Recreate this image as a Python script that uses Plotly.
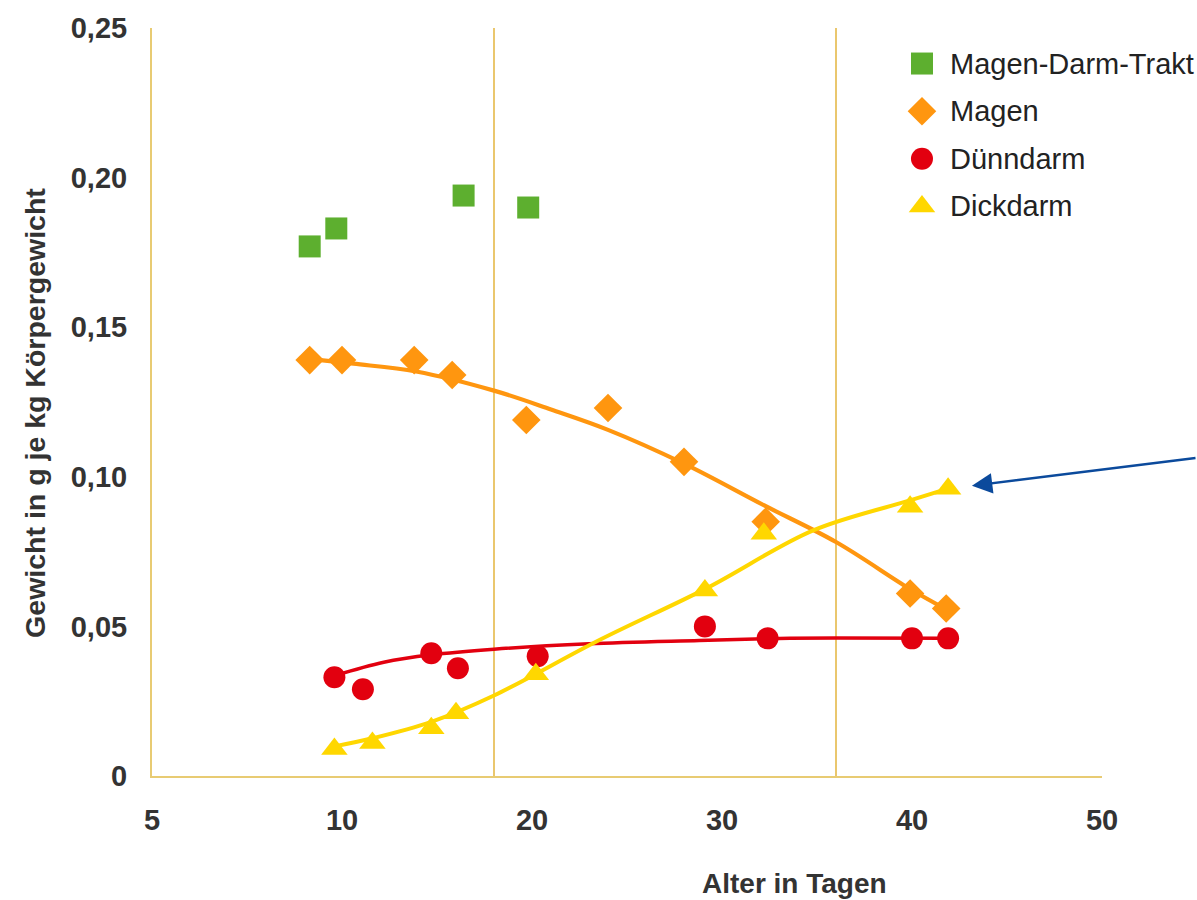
import plotly.graph_objects as go

# ---------------- data ----------------
series_names = ["Magen-Darm-Trakt", "Magen", "Dünndarm", "Dickdarm"]

gdt_days = [8.3, 9.7, 16.4, 19.8]
gdt_vals = [0.177, 0.183, 0.194, 0.190]

magen_days = [8.3, 10.0, 13.8, 15.8, 19.7, 24.0, 28.0, 32.3, 39.9, 41.8]
magen_vals = [0.139, 0.139, 0.139, 0.134, 0.119, 0.123, 0.105, 0.085, 0.061, 0.056]

duenn_days = [9.6, 11.1, 14.7, 16.1, 20.3, 29.1, 32.4, 40.0, 41.9]
duenn_vals = [0.033, 0.029, 0.041, 0.036, 0.040, 0.050, 0.046, 0.046, 0.046]

dick_days = [9.6, 11.6, 14.7, 16.0, 20.2, 29.1, 32.2, 39.9, 41.9]
dick_vals = [0.009, 0.011, 0.016, 0.021, 0.034, 0.062, 0.081, 0.090, 0.096]

# trend curves as drawn in the picture
magen_trend_days = [8.3, 10.6, 13.9, 18.0, 21.0, 24.0, 28.0, 32.2, 36.0, 39.9, 41.8]
magen_trend_vals = [0.1394, 0.1378, 0.1352, 0.1288, 0.1225, 0.1157, 0.1044, 0.0905, 0.0782, 0.0625, 0.0557]

duenn_trend_days = [9.6, 12.2, 14.7, 18.0, 23.0, 28.8, 32.4, 36.0, 41.9]
duenn_trend_vals = [0.0335, 0.0380, 0.0405, 0.0424, 0.0442, 0.0453, 0.0459, 0.0461, 0.0460]

dick_trend_days = [9.6, 11.6, 14.7, 18.0, 23.6, 29.2, 34.8, 39.9, 41.8]
dick_trend_vals = [0.0099, 0.0126, 0.0181, 0.0269, 0.0456, 0.0628, 0.0821, 0.0921, 0.0959]

phase_days = [18, 36]

x_tick_days = [0, 10, 20, 30, 40, 50]
x_tick_labels = ["5", "10", "20", "30", "40", "50"]
y_tick_vals = [0, 0.05, 0.10, 0.15, 0.20, 0.25]
y_tick_labels = ["0", "0,05", "0,10", "0,15", "0,20", "0,25"]

x_title = "Alter in Tagen"
y_title = "Gewicht in g je kg Körpergewicht"

# ---------------- styles ----------------
GREEN = "#5DAF2F"
ORANGE = "#FF960F"
RED = "#E2000F"
YELLOW = "#FFD700"
AXIS = "#E8CB73"
PHASE = "#E3B43E"
TXT = "#333333"
FONT = "Liberation Sans, Arial, sans-serif"

marker_styles = [
    dict(symbol="square", size=22, color=GREEN),
    dict(symbol="diamond", size=22, color=ORANGE),
    dict(symbol="circle", size=22, color=RED),
    dict(symbol="triangle-up", size=23, color=YELLOW),
]

fig = go.Figure()

# trend lines
fig.add_trace(go.Scatter(x=duenn_trend_days, y=duenn_trend_vals, mode="lines",
                         line=dict(color=RED, width=3.5, shape="spline", smoothing=1.0),
                         showlegend=False, hoverinfo="skip"))
fig.add_trace(go.Scatter(x=magen_trend_days, y=magen_trend_vals, mode="lines",
                         line=dict(color=ORANGE, width=4.2, shape="spline", smoothing=1.0),
                         showlegend=False, hoverinfo="skip"))
fig.add_trace(go.Scatter(x=dick_trend_days, y=dick_trend_vals, mode="lines",
                         line=dict(color=YELLOW, width=4, shape="spline", smoothing=1.0),
                         showlegend=False, hoverinfo="skip"))

# markers
for name, xs, ys, ms in zip(series_names,
                            [gdt_days, magen_days, duenn_days, dick_days],
                            [gdt_vals, magen_vals, duenn_vals, dick_vals],
                            marker_styles):
    fig.add_trace(go.Scatter(x=xs, y=ys, mode="markers", name=name,
                             marker=dict(symbol=ms["symbol"], size=ms["size"], color=ms["color"],
                                         line=dict(width=0)),
                             showlegend=False, cliponaxis=False))

# custom legend (large markers like the reference)
legend_x = 0.8105
legend_text_x = 0.838
legend_top = 0.9525
legend_step = 0.0637
for i, (name, ms) in enumerate(zip(series_names, marker_styles)):
    yy = legend_top - i * legend_step
    fig.add_trace(go.Scatter(x=[legend_x], y=[yy], xaxis="x2", yaxis="y2", mode="markers",
                             marker=dict(symbol=ms["symbol"], size=ms["size"], color=ms["color"],
                                         line=dict(width=0)),
                             showlegend=False, hoverinfo="skip", cliponaxis=False))
    fig.add_annotation(x=legend_text_x, y=yy, xref="paper", yref="paper", text=name,
                       showarrow=False, xanchor="left", yanchor="middle",
                       font=dict(family=FONT, size=29, color="#222222"))

# phase lines
for d in phase_days:
    fig.add_shape(type="line", x0=d, x1=d, y0=0, y1=0.25, xref="x", yref="y",
                  line=dict(color=PHASE, width=1.5), layer="below")

# axis titles
fig.add_annotation(x=0.6768, y=-0.1432, xref="paper", yref="paper", text=x_title,
                   showarrow=False, xanchor="center", yanchor="middle",
                   font=dict(family=FONT, size=28, color=TXT, weight="bold"))
fig.add_annotation(x=-0.1232, y=0.4854, xref="paper", yref="paper", text=y_title,
                   showarrow=False, textangle=-90, xanchor="center", yanchor="middle",
                   font=dict(family=FONT, size=28.5, color=TXT, weight="bold"))

# arrow pointing at last Dickdarm point
fig.add_annotation(x=dick_days[-1], y=dick_vals[-1], xref="x", yref="y", text="",
                   showarrow=True, ax=252, ay=-31, axref="pixel", ayref="pixel",
                   arrowhead=2, arrowsize=1.7, arrowwidth=2.4, arrowcolor="#0B4A9C",
                   standoff=24)

fig.update_layout(
    width=1197, height=900,
    margin=dict(l=152, r=95, t=22, b=124),
    plot_bgcolor="white", paper_bgcolor="white",
    showlegend=False,
    font=dict(family=FONT, color=TXT),
    xaxis=dict(range=[0, 50], tickvals=x_tick_days, ticktext=x_tick_labels,
               showline=True, linecolor=AXIS, linewidth=2, showgrid=False, zeroline=False,
               ticks="outside", ticklen=17, tickcolor="rgba(0,0,0,0)",
               tickfont=dict(family=FONT, size=29, color=TXT, weight="bold")),
    yaxis=dict(range=[0, 0.25], tickvals=y_tick_vals, ticktext=y_tick_labels,
               showline=True, linecolor=AXIS, linewidth=2, showgrid=False, zeroline=False,
               ticks="outside", ticklen=17, tickcolor="rgba(0,0,0,0)",
               tickfont=dict(family=FONT, size=29, color=TXT, weight="bold")),
    xaxis2=dict(overlaying="x", range=[0, 1], visible=False),
    yaxis2=dict(overlaying="y", range=[0, 1], visible=False),
)

fig.write_html("out.html", config={"displayModeBar": False},
               post_script="document.body.style.margin='0px';document.body.style.overflow='hidden';")
